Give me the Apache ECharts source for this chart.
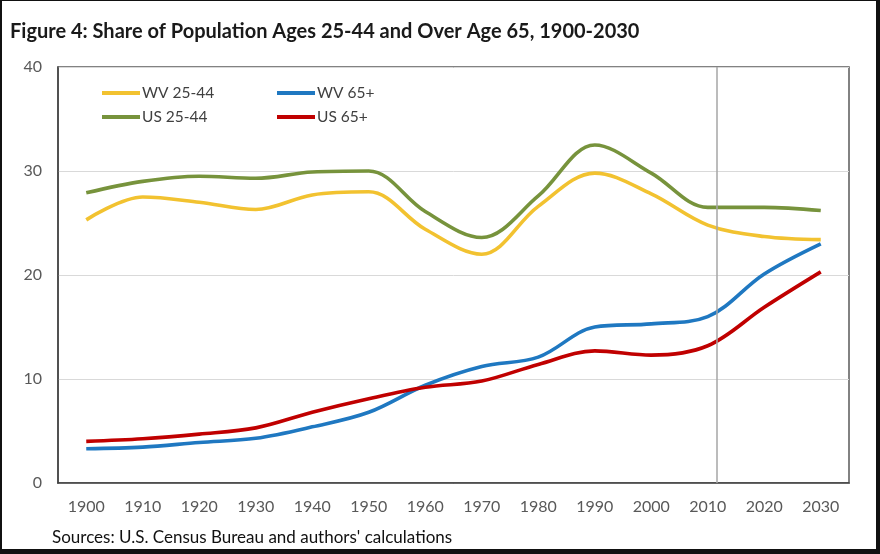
<!DOCTYPE html>
<html>
<head>
<meta charset="utf-8">
<script src="https://cdn.jsdelivr.net/npm/echarts@6/dist/echarts.min.js"></script>
<style>
html,body{margin:0;padding:0;background:#fff;}
#wrap{position:relative;width:880px;height:554px;}
#chart{position:absolute;left:0;top:0;width:880px;height:554px;}
#frame{position:absolute;left:0;top:0;width:880px;height:554px;box-sizing:border-box;border-top:1px solid #111;border-left:2px solid #111;border-right:4px solid #111;border-bottom:5px solid #111;pointer-events:none;}
</style>
</head>
<body>
<div id="wrap"><div id="chart"></div><div id="frame"></div></div>
<script>
const years = ['1900','1910','1920','1930','1940','1950','1960','1970','1980','1990','2000','2010','2020','2030'];
const wv2544 = [25.3, 27.5, 27.0, 26.3, 27.7, 28.0, 24.4, 22.0, 26.6, 29.8, 27.8, 24.8, 23.7, 23.4];
const us2544 = [27.9, 29.0, 29.5, 29.3, 29.9, 30.0, 26.1, 23.6, 27.6, 32.5, 29.8, 26.5, 26.5, 26.2];
const wv65 = [3.3, 3.45, 3.9, 4.3, 5.4, 6.8, 9.4, 11.2, 12.1, 15.0, 15.3, 16.0, 20.1, 23.0];
const us65 = [4.0, 4.25, 4.7, 5.3, 6.8, 8.1, 9.2, 9.8, 11.4, 12.7, 12.3, 13.2, 16.9, 20.3];
const yTicks = [0, 10, 20, 30, 40];
const dividerYear = 2011.6;
const titleText = 'Figure 4: Share of Population Ages 25-44 and Over Age 65, 1900-2030';
const sourceText = "Sources: U.S. Census Bureau and authors' calculations";

const FONT = 'Lato, "Open Sans", sans-serif';
const chart = echarts.init(document.getElementById('chart'));
const lineSeries = (name, data, color) => ({
  name, type: 'line', data, smooth: 0.35, symbol: 'none',
  lineStyle: {color, width: 3.6}, itemStyle: {color}, z: 3
});
chart.setOption({
  animation: false,
  textStyle: {fontFamily: FONT},
  title: [
    {text: titleText, left: 10, top: 22, padding: 0, textStyle: {fontFamily: FONT, fontSize: 20, fontWeight: 'bold', color: '#1a1a1a'}},
    {text: sourceText, left: 52, top: 529, padding: 0, textStyle: {fontFamily: FONT, fontSize: 17, fontWeight: 'normal', color: '#111'}}
  ],
  grid: {left: 58, right: 31, top: 67, bottom: 71, show: true, borderColor: '#5a5a5a', borderWidth: 1.5},
  legend: [
    {data: ['WV 25-44', 'US 25-44'], orient: 'vertical', left: 102, top: 85, padding: 0, icon: 'rect', itemWidth: 38, itemHeight: 4, itemGap: 8,
     textStyle: {fontFamily: FONT, fontSize: 15.5, color: '#404040', padding: [0, 0, 0, -3]}},
    {data: ['WV 65+', 'US 65+'], orient: 'vertical', left: 277, top: 85, padding: 0, icon: 'rect', itemWidth: 38, itemHeight: 4, itemGap: 8,
     textStyle: {fontFamily: FONT, fontSize: 15.5, color: '#404040', padding: [0, 0, 0, -3]}}
  ],
  xAxis: [
    {type: 'category', data: years, boundaryGap: true,
     axisLine: {show: true, lineStyle: {color: '#404040', width: 1.5}},
     axisTick: {show: false},
     axisLabel: {fontFamily: FONT, fontSize: 16, color: '#595959', margin: 16},
     splitLine: {show: false}},
    {type: 'value', min: 1895, max: 2035, show: false}
  ],
  yAxis: {type: 'value', min: yTicks[0], max: yTicks[yTicks.length - 1], interval: 10,
    axisLine: {show: true, lineStyle: {color: '#404040', width: 1.5}},
    axisTick: {show: false},
    axisLabel: {fontFamily: FONT, fontSize: 16, color: '#595959', margin: 16},
    splitLine: {show: true, lineStyle: {color: '#d9d9d9', width: 1}}},
  series: [
    lineSeries('WV 25-44', wv2544, '#F2C230'),
    lineSeries('US 25-44', us2544, '#77933C'),
    lineSeries('WV 65+', wv65, '#1F78C1'),
    lineSeries('US 65+', us65, '#C00000'),
    {name: 'divider', type: 'line', xAxisIndex: 1, data: [], silent: true,
     markLine: {silent: true, symbol: 'none', label: {show: false},
       lineStyle: {color: '#a6a6a6', width: 1.5, type: 'solid'},
       data: [{xAxis: dividerYear}]}, z: 2}
  ]
});
</script>
</body>
</html>
